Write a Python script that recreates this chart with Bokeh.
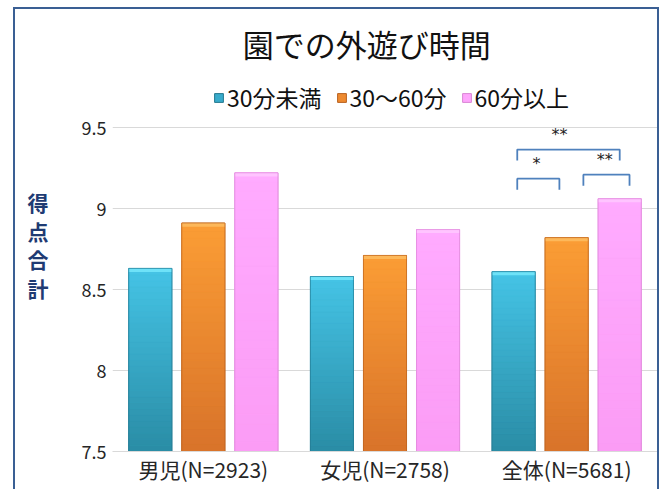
from bokeh.plotting import figure
from bokeh.models import (ColumnDataSource, FactorRange, Range1d, FixedTicker, Legend,
                          LegendItem, Label)
from bokeh.transform import dodge
from bokeh.core.properties import value
from bokeh.embed import file_html
from bokeh.resources import INLINE

# ---------------- data ----------------
categories = ["男児(N=2923)", "女児(N=2758)", "全体(N=5681)"]
series = ["30分未満", "30～60分", "60分以上"]
under30 = [8.63, 8.58, 8.61]
from30to60 = [8.91, 8.71, 8.82]
over60 = [9.22, 8.87, 9.06]
y_ticks = [7.5, 8, 8.5, 9, 9.5]
title_text = "園での外遊び時間"
y_label = "得点合計"

# significance brackets for 全体 : (left series, right series, left adj, right adj, top, leg bottom, mark)
sig_category = "全体(N=5681)"
sig_brackets = [
    (0, 2, 0.02, 0.0, 9.364, 9.296, "**"),
    (0, 1, 0.02, -0.04, 9.184, 9.116, "*"),
    (1, 2, 0.092, 0.054, 9.209, 9.141, "**"),
]

# ---------------- style ----------------
FONT = "Noto Sans CJK JP"
offsets = [-0.292, 0.0, 0.292]
bar_w = 0.237
top_colors = ["#45C4E6", "#FB9D35", "#FFABFF"]
bot_colors = ["#2A8CA5", "#D8732A", "#FB9CF5"]
mid_colors = ["#38ABCB", "#EE8A30", "#FEA5FC"]
cap_colors = ["#6EE2F8", "#FDB85A", "#FFC4FF"]
edge_colors = ["#23788F", "#B8611F", "#D985D4"]
base = 7.5
px_per_unit = 162.0
y_top = 9.5 + 118 / px_per_unit   # frame reaches the top of the figure

p = figure(width=642, height=480, x_range=FactorRange(*categories, range_padding=0),
           y_range=Range1d(7.5, y_top), output_backend="svg", toolbar_location=None,
           min_border_left=97, min_border_right=0, min_border_top=0, min_border_bottom=38)
p.margin = (9, 0, 0, 15)
p.styles = {"box-shadow": "-2px 0 0 0 #3A5F94, 2px 0 0 0 #3A5F94, 0 -2px 0 0 #3A5F94, "
                          "-2px -2px 0 0 #3A5F94, 2px -2px 0 0 #3A5F94"}
p.outline_line_color = None
p.background_fill_color = "white"
p.border_fill_color = "white"


def hex2rgb(h):
    return tuple(int(h[i:i + 2], 16) for i in (1, 3, 5))


def lerp(c1, c2, t):
    a, b = hex2rgb(c1), hex2rgb(c2)
    return "#%02x%02x%02x" % tuple(round(a[i] + (b[i] - a[i]) * t) for i in range(3))


values = [under30, from30to60, over60]
legend_items = []
N = 30
for s, vals in enumerate(values):
    src = ColumnDataSource(dict(cat=categories, val=vals, bottom=[base] * len(vals)))
    r = p.vbar(x=dodge("cat", offsets[s], range=p.x_range), top="val", bottom="bottom",
               width=bar_w, source=src, fill_color=mid_colors[s], line_color=edge_colors[s])
    legend_items.append(LegendItem(label=series[s], renderers=[r]))
    cats, bots, tops, cols = [], [], [], []
    for c, v in zip(categories, vals):
        for k in range(N):
            cats.append(c)
            bots.append(base + (v - base) * k / N)
            tops.append(base + (v - base) * (k + 1) / N)
            cols.append(lerp(bot_colors[s], top_colors[s], (k + 0.5) / N))
    gsrc = ColumnDataSource(dict(cat=cats, b=bots, t=tops, c=cols))
    p.vbar(x=dodge("cat", offsets[s], range=p.x_range), top="t", bottom="b", width=bar_w,
           source=gsrc, fill_color="c", line_color="c", line_width=0.6)
    csrc = ColumnDataSource(dict(cat=categories, t=vals, b=[v - 0.022 for v in vals]))
    p.vbar(x=dodge("cat", offsets[s], range=p.x_range), top="t", bottom="b", width=bar_w,
           source=csrc, fill_color=cap_colors[s], line_color=None)
    p.vbar(x=dodge("cat", offsets[s], range=p.x_range), top="val", bottom="bottom",
           width=bar_w, source=src, fill_alpha=0, line_color=edge_colors[s], line_alpha=0.55)

# significance brackets
ci = categories.index(sig_category) + 0.5
xs, ys, sx, sy, st = [], [], [], [], []
for a, b, da, db, top, leg, mark in sig_brackets:
    x0 = ci + offsets[a] + da
    x1 = ci + offsets[b] + db
    xs.append([x0, x0, x1, x1])
    ys.append([leg, top, top, leg])
    sx.append((x0 + x1) / 2 - (0.05 if (a, b) == (0, 2) else 0.01))
    sy.append(top + 0.035)
    st.append(mark)
p.multi_line(xs=xs, ys=ys, line_color="#4F81BD", line_width=1.8)
p.text(x=sx, y=sy, text=st, text_font=value("DejaVu Sans"), text_font_size="16px",
       text_align="center", text_baseline="bottom", text_color="#222222")

# axes
p.yaxis.ticker = FixedTicker(ticks=y_ticks)
p.ygrid.ticker = FixedTicker(ticks=y_ticks)
p.ygrid.grid_line_color = "#D9D9D9"
p.xgrid.grid_line_color = None
p.yaxis.axis_line_color = None
p.yaxis.major_tick_line_color = None
p.yaxis.minor_tick_line_color = None
p.yaxis.major_tick_out = 0
p.yaxis.major_label_text_font = FONT
p.yaxis.major_label_text_font_size = "18px"
p.yaxis.major_label_text_color = "#262626"
p.yaxis.major_label_standoff = 6
p.yaxis.axis_label = "\n" + "\n".join(y_label)
p.yaxis.axis_label_orientation = "horizontal"
p.yaxis.axis_label_text_font = FONT
p.yaxis.axis_label_text_font_size = "21px"
p.yaxis.axis_label_text_font_style = "bold"
p.yaxis.axis_label_text_color = "#1F3B73"
p.yaxis.axis_label_text_line_height = 0.95
p.yaxis.axis_label_standoff = 30
p.xaxis.axis_line_color = "#D9D9D9"
p.xaxis.major_tick_line_color = None
p.xaxis.minor_tick_line_color = None
p.xaxis.major_tick_out = 0
p.xaxis.major_label_text_font = FONT
p.xaxis.major_label_text_font_size = "21px"
p.xaxis.major_label_text_color = "#262626"
p.xaxis.major_label_standoff = 2

# title (inside the frame, above the plotting area)
p.add_layout(Label(x=1.40, y=9.5 + 84 / px_per_unit, text=title_text,
                   text_font=FONT, text_font_size="31px", text_color="#111111",
                   text_align="center", text_baseline="middle"))

legend = Legend(items=legend_items, orientation="horizontal", location=(101, 337),
                border_line_color=None, background_fill_alpha=0, padding=0, margin=0,
                glyph_width=11, glyph_height=11, label_standoff=3, spacing=14,
                label_text_font=FONT, label_text_font_size="23px", label_text_color="#111111",
                label_height=24)
p.add_layout(legend)

open("out.html", "w").write(file_html(p, INLINE))
